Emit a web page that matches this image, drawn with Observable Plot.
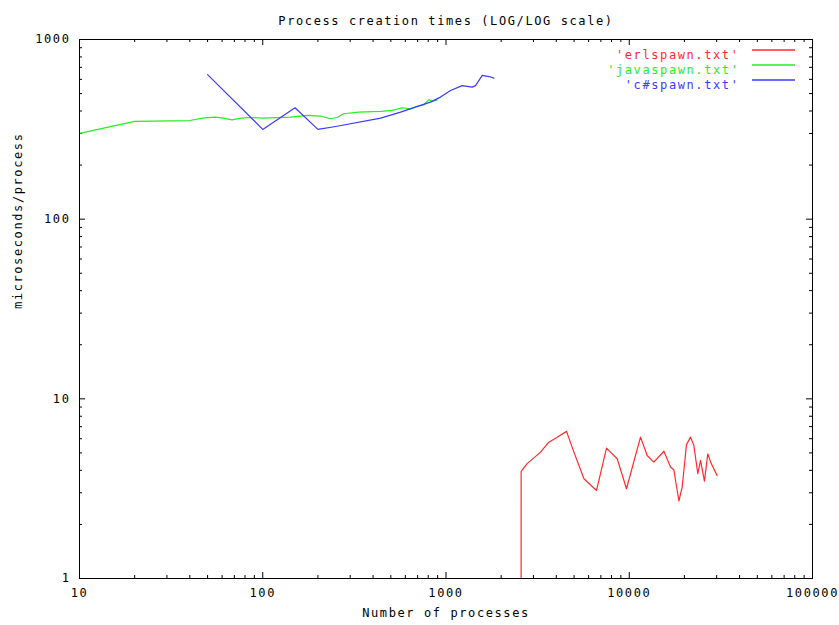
<!DOCTYPE html>
<html>
<head>
<meta charset="utf-8">
<script src="https://cdn.jsdelivr.net/npm/d3@7"></script>
<script src="https://cdn.jsdelivr.net/npm/@observablehq/plot@0.6"></script>
<style>
  html, body { margin: 0; padding: 0; background: #fff; }
  #chart svg text { letter-spacing: 1.6px; }
</style>
</head>
<body>
<div id="chart"></div>
<script>
// ---- data ----
const title = "Process creation times (LOG/LOG scale)";
const xLabel = "Number of processes";
const yLabel = "microseconds/process";
const seriesNames = ["'erlspawn.txt'", "'javaspawn.txt'", "'c#spawn.txt'"];
const seriesColors = ["#ff2a2a", "#22ee22", "#3a3aff"];

const xMajor = [10, 100, 1000, 10000, 100000];
const yMajor = [1, 10, 100, 1000];

const erlX = [2570, 2570, 2773, 3280, 3640, 4043, 4548, 4989, 5659, 6628, 7515, 8594, 9660, 11520, 12530, 13620, 15450, 16800, 17510, 18660, 19450, 20530, 21590, 22510, 23670, 24490, 25720, 26840, 28010, 30150];
const erlY = [1, 3.95, 4.36, 5.05, 5.74, 6.12, 6.59, 5.05, 3.59, 3.09, 5.32, 4.64, 3.16, 6.12, 4.84, 4.44, 5.11, 4.17, 4.03, 2.70, 3.23, 5.56, 6.12, 5.51, 3.83, 4.54, 3.48, 4.94, 4.36, 3.75];

const javaX = [10, 20, 40, 48, 55, 61, 68, 76, 86, 100, 142, 175, 207, 234, 255, 276, 333, 440, 509, 577, 640, 696, 757, 806, 841, 896];
const javaY = [300, 350, 354, 366, 370, 365, 357, 365, 368, 365, 370, 378, 375, 362, 368, 386, 394, 398, 403, 417, 411, 425, 432, 463, 452, 461];

const csX = [50, 100, 150, 200, 250, 440, 565, 726, 822, 933, 1059, 1225, 1390, 1449, 1577, 1715, 1825];
const csY = [637, 316, 417, 316, 328, 365, 394, 430, 448, 478, 520, 554, 543, 554, 631, 622, 610];

// ---- layout ----
const W = 839, H = 625;
const mL = 79, mR = 27, mT = 39, mB = 47;
const fw = W - mL - mR, fh = H - mT - mB;
const majorLen = 6, minorLen = 3;

function minors(decades) {
  const out = [];
  for (const d of decades) for (let k = 2; k <= 9; k++) out.push(d * k);
  return out;
}
const xMinor = minors(xMajor.slice(0, -1));
const yMinor = minors(yMajor.slice(0, -1));

const toRows = (xs, ys) => xs.map((x, i) => ({x, y: ys[i]}));
const series = [toRows(erlX, erlY), toRows(javaX, javaY), toRows(csX, csY)];

const fmt = d => String(d);

const legendSwatches = (index, scales, values, dimensions) => {
  const g = d3.create("svg:g");
  const xr = dimensions.width - dimensions.marginRight;
  const yt = dimensions.marginTop;
  seriesNames.forEach((n, i) => {
    g.append("line")
      .attr("x1", xr - 60).attr("x2", xr - 17)
      .attr("y1", yt + 11 + i * 15).attr("y2", yt + 11 + i * 15)
      .attr("stroke", seriesColors[i]).attr("stroke-width", 1.3);
  });
  return g.node();
};

const chart = Plot.plot({
  width: W, height: H,
  marginLeft: mL, marginRight: mR, marginTop: mT, marginBottom: mB,
  style: {fontFamily: "'DejaVu Sans Mono', monospace", fontSize: "12px", background: "#fff", color: "#000"},
  x: {type: "log", domain: [10, 100000]},
  y: {type: "log", domain: [1, 1000]},
  marks: [
    // ticks (inward, mirrored)
    Plot.tickX(xMajor, {x: d => d, insetTop: fh - majorLen, stroke: "#000"}),
    Plot.tickX(xMajor, {x: d => d, insetBottom: fh - majorLen, stroke: "#000"}),
    Plot.tickX(xMinor, {x: d => d, insetTop: fh - minorLen, stroke: "#000"}),
    Plot.tickX(xMinor, {x: d => d, insetBottom: fh - minorLen, stroke: "#000"}),
    Plot.tickY(yMajor, {y: d => d, insetRight: fw - majorLen, stroke: "#000"}),
    Plot.tickY(yMajor, {y: d => d, insetLeft: fw - majorLen, stroke: "#000"}),
    Plot.tickY(yMinor, {y: d => d, insetRight: fw - minorLen, stroke: "#000"}),
    Plot.tickY(yMinor, {y: d => d, insetLeft: fw - minorLen, stroke: "#000"}),
    Plot.axisX({ticks: xMajor, tickFormat: fmt, tickSize: 0, tickPadding: 10, label: null}),
    Plot.axisY({ticks: yMajor, tickFormat: fmt, tickSize: 0, tickPadding: 9, label: null}),
    // data lines
    ...series.map((rows, i) => Plot.line(rows, {x: "x", y: "y", stroke: seriesColors[i], strokeWidth: 1.2, clip: true})),
    Plot.frame({stroke: "#000"}),
    // legend
    ...seriesNames.map((n, i) => Plot.text([n], {text: d => d, frameAnchor: "top-right", textAnchor: "end", dx: -73, dy: 11 + i * 15, fill: seriesColors[i]})),
    legendSwatches,
    // titles
    Plot.text([title], {text: d => d, frameAnchor: "top", dy: -23}),
    Plot.text([xLabel], {text: d => d, frameAnchor: "bottom", dy: 38}),
    Plot.text([yLabel], {text: d => d, frameAnchor: "left", dx: -61, rotate: -90})
  ]
});
document.getElementById("chart").appendChild(chart);
</script>
</body>
</html>
